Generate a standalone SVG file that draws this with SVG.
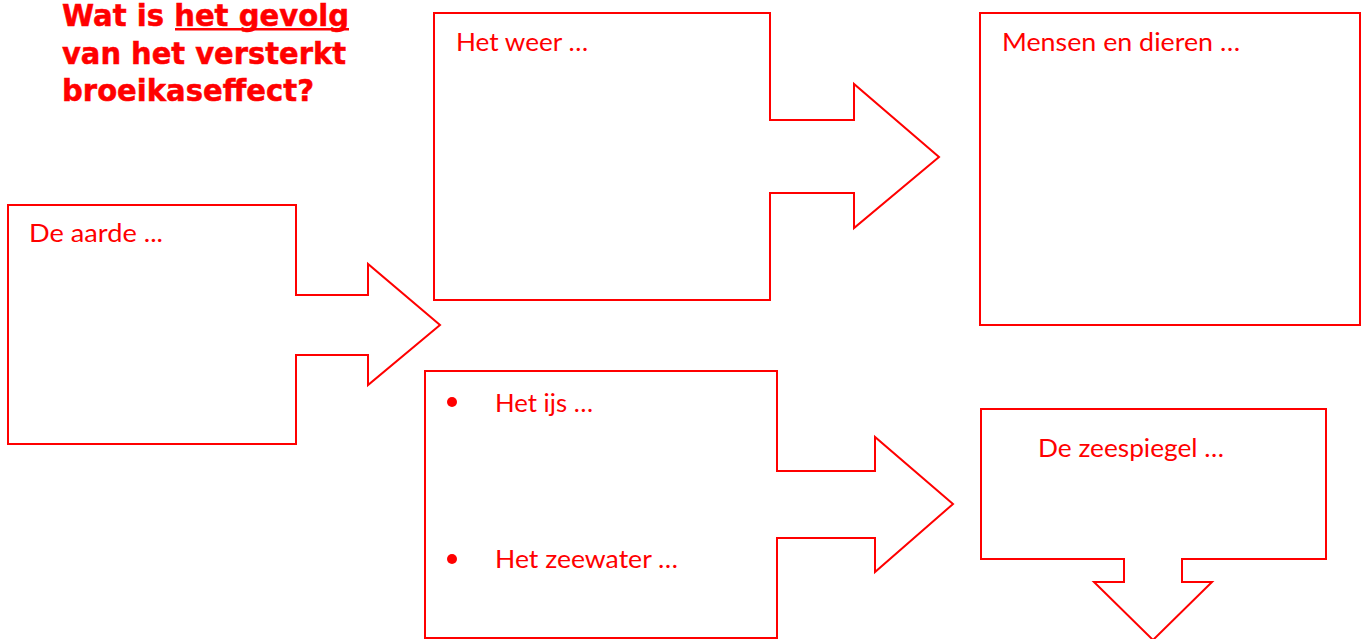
<svg xmlns="http://www.w3.org/2000/svg" width="1366" height="639" viewBox="0 0 1366 639">
  <style>
    .shape { fill: #ffffff; stroke: #ff0000; stroke-width: 2; stroke-linejoin: miter; }
    .lbl { font-family: Lato, "Open Sans", "Liberation Sans", sans-serif; font-size: 25px; fill: #ff0000; }
    .title { font-family: "DejaVu Sans", Verdana, sans-serif; font-weight: bold; font-size: 30px; fill: #ff0000; stroke: #ff0000; stroke-width: 0.5; }
    .bullet { fill: #ff0000; }
  </style>
  <rect width="1366" height="639" fill="#ffffff"/>

  <g id="title">
    <text class="title" x="62" y="26" textLength="287" lengthAdjust="spacingAndGlyphs">Wat is het gevolg</text>
    <rect x="175" y="28" width="174" height="2.5" fill="#ff0000"/>
    <text class="title" x="62" y="64" textLength="284" lengthAdjust="spacingAndGlyphs">van het versterkt</text>
    <text class="title" x="62" y="101" textLength="252" lengthAdjust="spacingAndGlyphs">broeikaseffect?</text>
  </g>

  <g id="node-aarde">
    <path class="shape" d="M8,205 L296,205 L296,295 L368,295 L368,264 L440,325 L368,385 L368,355 L296,355 L296,444 L8,444 Z"/>
    <text class="lbl" x="29" y="242" textLength="134" lengthAdjust="spacingAndGlyphs">De aarde ...</text>
  </g>

  <g id="node-weer">
    <path class="shape" d="M434,13 L770,13 L770,120 L854,120 L854,84 L939,157 L854,228 L854,193 L770,193 L770,300 L434,300 Z"/>
    <text class="lbl" x="456" y="51" textLength="132" lengthAdjust="spacingAndGlyphs">Het weer …</text>
  </g>

  <g id="node-mensen">
    <rect class="shape" x="980" y="13" width="380" height="312"/>
    <text class="lbl" x="1002" y="51" textLength="238" lengthAdjust="spacingAndGlyphs">Mensen en dieren …</text>
  </g>

  <g id="node-ijs">
    <path class="shape" d="M425,371 L777,371 L777,471 L875,471 L875,437 L953,504 L875,572 L875,538 L777,538 L777,638 L425,638 Z"/>
    <circle class="bullet" cx="452" cy="402" r="5"/>
    <text class="lbl" x="495" y="412" textLength="98" lengthAdjust="spacingAndGlyphs">Het ijs …</text>
    <circle class="bullet" cx="452" cy="559" r="5"/>
    <text class="lbl" x="495" y="568" textLength="183" lengthAdjust="spacingAndGlyphs">Het zeewater …</text>
  </g>

  <g id="node-zeespiegel">
    <path class="shape" d="M981,409 L1326,409 L1326,559 L1182,559 L1182,582 L1212,582 L1153,640 L1094,582 L1124,582 L1124,559 L981,559 Z"/>
    <text class="lbl" x="1038" y="457" textLength="186" lengthAdjust="spacingAndGlyphs">De zeespiegel …</text>
  </g>

  <g id="connectors"></g>
</svg>
